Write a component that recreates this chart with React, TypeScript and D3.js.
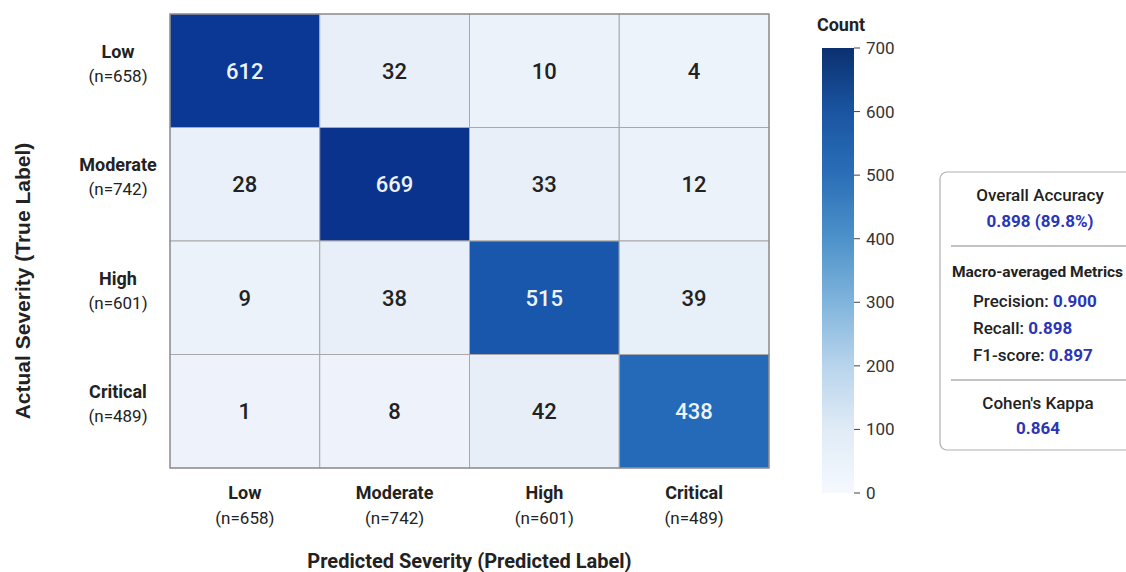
import * as d3 from 'd3';
import React from 'react';

// confusion matrix: rows = actual, columns = predicted
const classes = ['Low', 'Moderate', 'High', 'Critical'];
const classCounts = [658, 742, 601, 489];
const matrix = [
  [612, 32, 10, 4],
  [28, 669, 33, 12],
  [9, 38, 515, 39],
  [1, 8, 42, 438],
];
const colorTicks = [0, 100, 200, 300, 400, 500, 600, 700];

const accuracyText = '0.898 (89.8%)';
const macroNames = ['Precision:', 'Recall:', 'F1-score:'];
const macroValues = ['0.900', '0.898', '0.897'];
const kappaText = '0.864';

const width = 1126, height = 572;
const hm = { left: 170, right: 769, top: 14, bottom: 468 };
const cb = { x: 822, w: 32, top: 48, bottom: 493 };
const font = 'Roboto, "Noto Sans", sans-serif';
const blueText = '#2a35b8';

// colours
const cellColor = d3.scaleLinear<string>()
  .domain([0, 100, 400, 500, 600, 700])
  .range(['#eef3fb', '#dde8f5', '#2a72bf', '#1a5cb0', '#0b3995', '#08308a']);
const barColor = d3.scaleLinear<string>()
  .domain([0, 100, 200, 300, 400, 500, 600, 700])
  .range(['#f5f9fe', '#e0ebf6', '#b8d4ec', '#80b4dc', '#4d92ca', '#2b6fb7', '#1a55a2', '#0b3070']);

const App = () => {
  const x = d3.scaleBand().domain(classes).range([hm.left, hm.right]);
  const y = d3.scaleBand().domain(classes).range([hm.top, hm.bottom]);
  const cy = d3.scaleLinear().domain([0, 700]).range([cb.bottom, cb.top]);

  const cells = matrix.flatMap((row, i) =>
    row.map((v, j) => ({ actual: classes[i], pred: classes[j], v })));

  return (
    <div style={{ position: 'absolute', left: 0, top: 0 }}>
      <svg width={width} height={height} style={{ fontFamily: font, display: 'block' }}>
        <defs>
          <linearGradient id="cbar" x1="0" y1="1" x2="0" y2="0">
            {colorTicks.map(t => (
              <stop key={t} offset={`${(t / 700) * 100}%`} stopColor={barColor(t)} />
            ))}
          </linearGradient>
        </defs>
        <rect width={width} height={height} fill="#fff" />

        {/* heatmap cells */}
        {cells.map(c => (
          <g key={c.actual + c.pred}>
            <rect x={x(c.pred)} y={y(c.actual)} width={x.bandwidth()} height={y.bandwidth()}
              fill={cellColor(c.v)} stroke="#a8a8a8" strokeWidth={1} />
            <text x={x(c.pred)! + x.bandwidth() / 2} y={y(c.actual)! + y.bandwidth() / 2 + 8}
              textAnchor="middle" fontSize={22} fontWeight={500}
              fill={c.v > 350 ? '#eef2fb' : '#222'}>{c.v}</text>
          </g>
        ))}
        <rect x={hm.left} y={hm.top} width={hm.right - hm.left} height={hm.bottom - hm.top}
          fill="none" stroke="#888" strokeWidth={1.2} />

        {/* row labels */}
        {classes.map((c, i) => (
          <g key={'r' + c} textAnchor="middle" fill="#222">
            <text x={118} y={y(c)! + y.bandwidth() / 2 - 13} fontSize={18} fontWeight={700}>{c}</text>
            <text x={118} y={y(c)! + y.bandwidth() / 2 + 11} fontSize={17}>(n={classCounts[i]})</text>
          </g>
        ))}

        {/* column labels */}
        {classes.map((c, i) => (
          <g key={'c' + c} textAnchor="middle" fill="#222">
            <text x={x(c)! + x.bandwidth() / 2} y={499} fontSize={18} fontWeight={700}>{c}</text>
            <text x={x(c)! + x.bandwidth() / 2} y={524} fontSize={17}>(n={classCounts[i]})</text>
          </g>
        ))}

        <text x={(hm.left + hm.right) / 2} y={568} textAnchor="middle" fontSize={20}
          fontWeight={700} fill="#222">Predicted Severity (Predicted Label)</text>
        <text transform="translate(30,281) rotate(-90)" textAnchor="middle" fontSize={21}
          fontWeight={700} fill="#222"
          style={{ fontFamily: '"Liberation Sans", Arial, sans-serif' }}>Actual Severity (True Label)</text>

        {/* colorbar */}
        <text x={841} y={31} textAnchor="middle" fontSize={18} fontWeight={700} fill="#222">Count</text>
        <rect x={cb.x} y={cb.top} width={cb.w} height={cb.bottom - cb.top} fill="url(#cbar)" />
        {colorTicks.map(t => (
          <g key={t}>
            <line x1={cb.x + cb.w} x2={cb.x + cb.w + 6} y1={cy(t)} y2={cy(t)} stroke="#444" strokeWidth={1} />
            <text x={cb.x + cb.w + 12} y={cy(t) + 6} fontSize={17} fill="#333">{t}</text>
          </g>
        ))}

        {/* metrics box */}
        <rect x={940} y={172} width={200} height={278} rx={7} fill="#fff" stroke="#b0b0b0" strokeWidth={1.2} />
        <text x={1040} y={201} textAnchor="middle" fontSize={17} fontWeight={500} fill="#222">Overall Accuracy</text>
        <text x={1040} y={227} textAnchor="middle" fontSize={17} fontWeight={700} fill={blueText}>{accuracyText}</text>
        <line x1={951} x2={1130} y1={246} y2={246} stroke="#888" strokeWidth={1.2} />
        <text x={952} y={277} fontSize={15.5} fontWeight={700} fill="#222">Macro-averaged Metrics</text>
        {macroNames.map((n, i) => (
          <text key={n} x={973} y={307 + i * 27} fontSize={17} fontWeight={500} fill="#222">
            {n} <tspan fontWeight={700} fill={blueText}>{macroValues[i]}</tspan>
          </text>
        ))}
        <line x1={951} x2={1130} y1={380} y2={380} stroke="#888" strokeWidth={1.2} />
        <text x={1038} y={409} textAnchor="middle" fontSize={17} fontWeight={500} fill="#222">Cohen's Kappa</text>
        <text x={1038} y={434} textAnchor="middle" fontSize={17} fontWeight={700} fill={blueText}>{kappaText}</text>
      </svg>
    </div>
  );
};

export default App;
